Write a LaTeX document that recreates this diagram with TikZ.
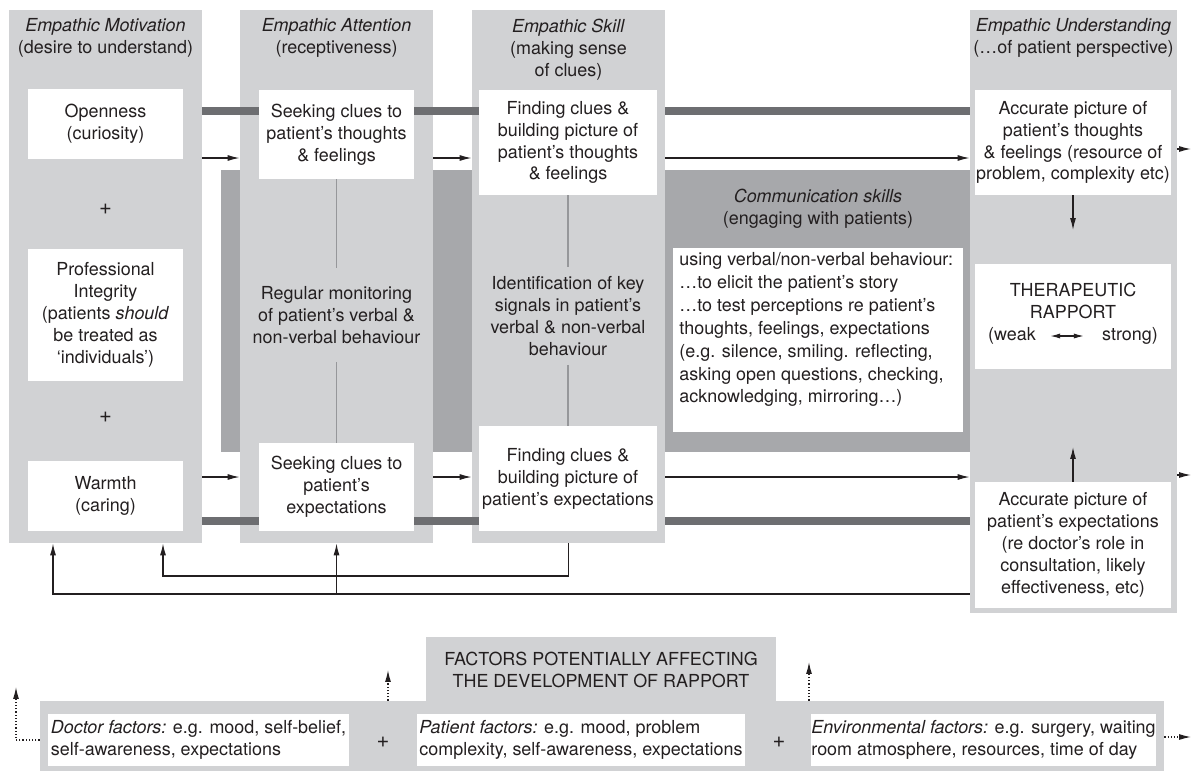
\documentclass[tikz,border=0pt]{standalone}
\usepackage{fontspec}
\setmainfont{TeX Gyre Heros}
\usepackage{tikz}
\usetikzlibrary{arrows.meta, positioning, fit, calc}

\definecolor{colgray}{RGB}{209,210,212}
\definecolor{commgray}{RGB}{167,168,171}
\definecolor{bargray}{RGB}{109,110,113}
\definecolor{ink}{RGB}{35,31,32}
\definecolor{linkgray}{RGB}{150,151,154}

\tikzset{
	every node/.style={font=\fontsize{9}{11}\selectfont, text=ink},
	colbox/.style={rectangle, fill=colgray, inner sep=0pt},
	wbox/.style={rectangle, fill=white, inner sep=0pt, align=center},
	head/.style={align=center, inner sep=0pt},
	plus/.style={font=\fontsize{11}{13}\selectfont, inner sep=0pt},
	bar/.style={bargray, line width=4.2pt},
	link/.style={linkgray, line width=0.6pt},
	arr/.style={ink, line width=0.6pt, -{Latex[length=6pt,width=3pt]}},
	dblarr/.style={ink, line width=0.6pt, {Latex[length=5pt,width=2.6pt]}-{Latex[length=5pt,width=2.6pt]}},
	dotarr/.style={ink, line width=0.6pt, densely dotted, -{Latex[length=6pt,width=3pt]}},
}

\begin{document}
\begin{tikzpicture}[x=0.5bp, y=-0.5bp]
	\useasboundingbox (0,0) rectangle (1191,773);
	% background band and columns
	\node[colbox, fill=commgray, fit={(221,170) (970,452)}] (comm) {};
	\node[colbox, fit={(9,10) (202,543)}] (mot) {};
	\node[colbox, fit={(240,10) (433,543)}] (att) {};
	\node[colbox, fit={(472,10) (665,543)}] (skill) {};
	\node[colbox, fit={(970,10) (1177,613)}] (und) {};

	\node[head] (motH) at (105.5,38) {\textit{Empathic Motivation}\\(desire to understand)};
	\node[head] (attH) at (336.5,38) {\textit{Empathic Attention}\\(receptiveness)};
	\node[head] (skillH) at (568.5,49.5) {\textit{Empathic Skill}\\(making sense\\of clues)};
	\node[head] (undH) at (1073.5,38) {\textit{Empathic Understanding}\\(…of patient perspective)};
	\node[head] (commH) at (818,208.5) {\textit{Communication skills}\\(engaging with patients)};

	\coordinate (topbar) at (0,111);
	\coordinate (botbar) at (0,521);
	\draw[bar] (mot.east |- topbar) -- (skill.center |- topbar);
	\draw[bar] (skill.east |- topbar) -- (und.west |- topbar);
	\draw[bar] (mot.east |- botbar) -- (skill.center |- botbar);
	\draw[bar] (skill.east |- botbar) -- (und.west |- botbar);

	% motivation
	\node[wbox, minimum width=77.5bp, minimum height=35bp] (open) at (105.5,124) {Openness\\(curiosity)};
	\node[plus] (plusA) at (105.5,209) {+};
	\node[wbox, minimum width=77.5bp, minimum height=66bp] (integ) at (105.5,315) {Professional\\Integrity\\(patients \textit{should}\\be treated as\\‘individuals’)};
	\node[plus] (plusB) at (105.5,417) {+};
	\node[wbox, minimum width=77.5bp, minimum height=35bp] (warm) at (105.5,496) {Warmth\\(caring)};

	% attention
	\node[wbox, minimum width=77.5bp, minimum height=44.5bp] (seekTF) at (336.5,134.5) {Seeking clues to\\patient’s thoughts\\\& feelings};
	\node[head, inner ysep=9pt] (monitor) at (336.5,315) {Regular monitoring\\of patient’s verbal \&\\non-verbal behaviour};
	\node[wbox, minimum width=77.5bp, minimum height=44bp] (seekEx) at (336.5,487) {Seeking clues to\\patient’s\\expectations};
	\draw[link] (seekTF) -- (monitor) -- (seekEx);

	% skill
	\node[wbox, minimum width=89bp, minimum height=52.5bp] (findTF) at (568,142.5) {Finding clues \&\\building picture of\\patient’s thoughts\\\& feelings};
	\node[head, inner ysep=4.5pt] (signal) at (568,316) {Identification of key\\signals in patient’s\\verbal \& non-verbal\\behaviour};
	\node[wbox, minimum width=89bp, minimum height=52.5bp] (findEx) at (568,478.5) {Finding clues \&\\building picture of\\patient’s expectations};
	\draw[link] (findTF) -- (signal) -- (findEx);

	% communication skills
	\node[wbox, fit={(673,248) (963,432)}] (commbox) {};
	\node[anchor=north west, align=left, inner sep=0pt, font=\fontsize{9}{11.5}\selectfont] (commtxt) at (679,252)
		{using verbal/non-verbal behaviour:\\…to elicit the patient’s story\\…to test perceptions re patient’s\\thoughts, feelings, expectations\\(e.g. silence, smiling. reflecting,\\asking open questions, checking,\\acknowledging, mirroring…)};

	% understanding
	\node[wbox, minimum width=98bp, minimum height=52.5bp] (accTF) at (1073,142.5) {Accurate picture of\\patient’s thoughts\\\& feelings (resource of\\problem, complexity etc)};
	\node[wbox, minimum width=98bp, minimum height=52.5bp] (thera) at (1073,316.5) {};
	\node[head] (rapport) at (1073,301) {THERAPEUTIC\\RAPPORT};
	\node[inner sep=0pt] (weak) at (1012,336) {(weak};
	\node[inner sep=0pt] (strong) at (1130,336) {strong)};
	\draw[dblarr, shorten <=7bp, shorten >=9bp] (weak) -- (strong);
	\node[wbox, minimum width=98bp, minimum height=63bp] (accEx) at (1073,545) {Accurate picture of\\patient’s expectations\\(re doctor’s role in\\consultation, likely\\effectiveness, etc)};

	\coordinate (toRap) at (1073,230);
	\coordinate (fromEx) at (1073,447);
	\draw[arr] (accTF) -- (toRap);
	\draw[arr] (accEx) -- (fromEx);

	% flow arrows
	\coordinate (topflow) at (0,158);
	\coordinate (botflow) at (0,477);
	\draw[arr] (mot.east |- topflow) -- (att.west |- topflow);
	\draw[arr] (att.east |- topflow) -- (skill.west |- topflow);
	\draw[arr] (skill.east |- topflow) -- (und.west |- topflow);
	\draw[arr] (mot.east |- botflow) -- (att.west |- botflow);
	\draw[arr] (att.east |- botflow) -- (skill.west |- botflow);
	\draw[arr] (skill.east |- botflow) -- (und.west |- botflow);
	\coordinate (outTF) at (1191,149);
	\coordinate (outEx) at (1191,475);
	\draw[arr] (und.east |- outTF) -- (outTF);
	\draw[arr] (und.east |- outEx) -- (outEx);

	% feedback
	\coordinate (fbA) at (163,576);
	\coordinate (fbB) at (53,594);
	\draw[arr] (skill.south) |- (fbA) -- (fbA |- mot.south);
	\draw[arr] (und.west |- fbB) -- (fbB) -- (fbB |- mot.south);
	\draw[arr] (att.south |- fbB) -- (att.south);

	% factors
	\node[colbox, fit={(40,701) (1164,771)}] (factors) {};
	\node[colbox, minimum width=175bp, minimum height=32.5bp, align=center] (ftitle) at (601,669.5) {FACTORS POTENTIALLY AFFECTING\\THE DEVELOPMENT OF RAPPORT};
	\node[wbox, minimum width=150.5bp, minimum height=26bp, align=left] (docF) at (198.5,740) {\textit{Doctor factors:} e.g. mood, self-belief,\\self-awareness, expectations};
	\node[plus] (plusC) at (383,742) {+};
	\node[wbox, minimum width=164bp, minimum height=26bp, align=left] (patF) at (581,740) {\textit{Patient factors:} e.g. mood, problem\\complexity, self-awareness, expectations};
	\node[plus] (plusD) at (779,742) {+};
	\node[wbox, minimum width=172.5bp, minimum height=26bp, align=left] (envF) at (983.5,740) {\textit{Environmental factors:} e.g. surgery, waiting\\room atmosphere, resources, time of day};

	\coordinate (dotLy) at (0,740);
	\coordinate (dotL) at (16,687);
	\coordinate (dotM) at (388,670);
	\coordinate (dotN) at (809,662);
	\coordinate (dotR) at (1191,737);
	\draw[dotarr] (factors.west |- dotLy) -| (dotL);
	\draw[dotarr] (dotM |- factors.north) -- (dotM);
	\draw[dotarr] (dotN |- factors.north) -- (dotN);
	\draw[dotarr] (factors.east |- dotR) -- (dotR);
\end{tikzpicture}
\end{document}
